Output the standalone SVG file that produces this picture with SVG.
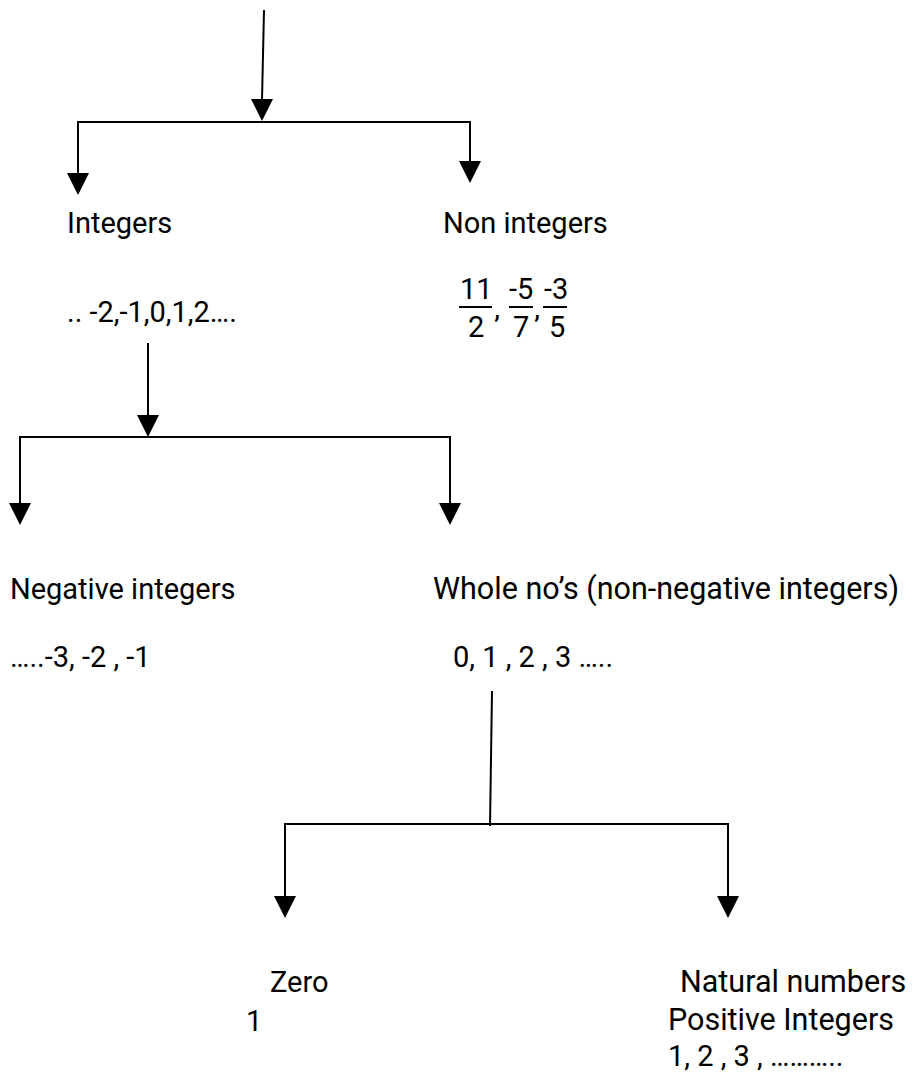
<svg xmlns="http://www.w3.org/2000/svg" width="916" height="1074" viewBox="0 0 916 1074">
<style>
text{font-family:Roboto,"Liberation Sans",sans-serif;font-size:29px;fill:#000}
.w{font-size:30.5px}
.ln{stroke:#000;stroke-width:2;fill:none}
.ah{fill:#000}
</style>
<rect width="916" height="1074" fill="#fff"/>
<g id="connectors">
<line class="ln" x1="264" y1="10" x2="262" y2="100"/>
<path class="ah" d="M251,99 L273,99 L262,121 Z"/>
<line class="ln" x1="78" y1="122" x2="470" y2="122"/>
<line class="ln" x1="78" y1="121" x2="78" y2="175"/>
<path class="ah" d="M67,173 L89,173 L78,195 Z"/>
<line class="ln" x1="470" y1="121" x2="470" y2="163"/>
<path class="ah" d="M459,161 L481,161 L470,183 Z"/>
<line class="ln" x1="148" y1="343" x2="148" y2="417"/>
<path class="ah" d="M137,415 L159,415 L148,437 Z"/>
<line class="ln" x1="20" y1="437" x2="450" y2="437"/>
<line class="ln" x1="20" y1="436" x2="20" y2="505"/>
<path class="ah" d="M9,503 L31,503 L20,525 Z"/>
<line class="ln" x1="450" y1="436" x2="450" y2="505"/>
<path class="ah" d="M439,503 L461,503 L450,525 Z"/>
<line class="ln" x1="492" y1="691" x2="490" y2="826"/>
<line class="ln" x1="285" y1="824" x2="728" y2="824"/>
<line class="ln" x1="285" y1="823" x2="285" y2="898"/>
<path class="ah" d="M274,896 L296,896 L285,918 Z"/>
<line class="ln" x1="728" y1="823" x2="728" y2="898"/>
<path class="ah" d="M717,896 L739,896 L728,918 Z"/>
</g>
<g id="integers"><text x="67" y="233">Integers</text><text x="67" y="322">.. -2,-1,0,1,2….</text></g>
<g id="non-integers"><text x="443" y="233">Non integers</text>
<text x="460" y="299">11</text><line class="ln" x1="459" y1="307" x2="492" y2="307"/><text x="468" y="337">2</text><text x="494" y="337">’</text>
<text x="509" y="299">-5</text><line class="ln" x1="509" y1="307" x2="533" y2="307"/><text x="513" y="337">7</text><text x="534" y="337">’</text>
<text x="544" y="299">-3</text><line class="ln" x1="543" y1="307" x2="567" y2="307"/><text x="549" y="337">5</text>
</g>
<g id="negative-integers"><text x="10" y="599">Negative integers</text><text x="10" y="667">…..-3, -2 , -1</text></g>
<g id="whole-numbers"><text class="w" x="433" y="599">Whole no’s (non-negative integers)</text><text x="453" y="667">0, 1 , 2 , 3 …..</text></g>
<g id="zero"><text x="270" y="992">Zero</text><text x="246" y="1031">1</text></g>
<g id="natural-numbers"><text class="w" x="680" y="992">Natural numbers</text><text class="w" x="668" y="1030">Positive Integers</text><text x="668" y="1066">1, 2 , 3 , ………..</text></g>
</svg>
